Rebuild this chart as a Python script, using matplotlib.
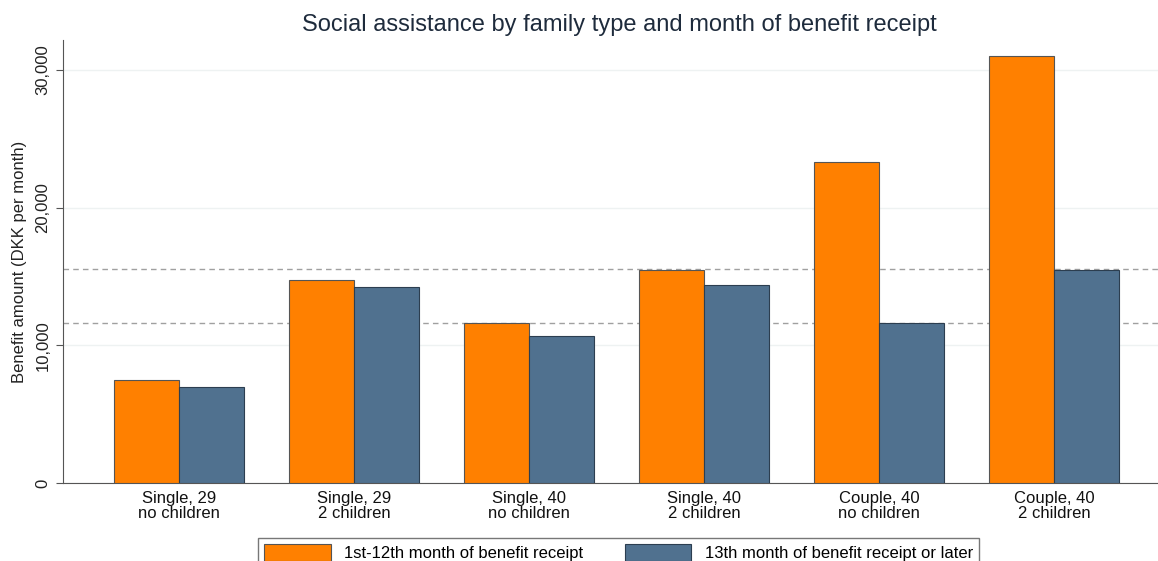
import numpy as np
from matplotlib import pyplot as plt

plt.rcParams['font.family'] = ['Liberation Sans', 'DejaVu Sans']

# Datos (DKK por mes)
familias = ['Single, 29\nno children', 'Single, 29\n2 children',
            'Single, 40\nno children', 'Single, 40\n2 children',
            'Couple, 40\nno children', 'Couple, 40\n2 children']
primer_anio = [7500, 14750, 11650, 15500, 23350, 31000]
despues = [7000, 14250, 10650, 14400, 11650, 15500]
referencias = [11650, 15550]  # lineas punteadas

etiquetas = ['1st-12th month of benefit receipt',
             '13th month of benefit receipt or later']

naranja = '#FF8000'
azul = '#50718F'

fig = plt.figure(figsize=(11.58, 5.61), dpi=100)
ax = fig.add_axes([0.0544, 0.139, 0.9456, 0.79])

x = np.arange(len(familias))
ancho = 0.371

ax.bar(x - ancho / 2, primer_anio, ancho, color=naranja,
       edgecolor='#555555', linewidth=0.8, label=etiquetas[0], zorder=3)
ax.bar(x + ancho / 2, despues, ancho, color=azul,
       edgecolor='#2c3e50', linewidth=0.8, label=etiquetas[1], zorder=3)

for r in referencias:
    ax.axhline(r, color='#a0a0a0', linestyle=(0, (4, 3)), linewidth=1, zorder=2)

ax.set_xlim(-0.663, 5.594)
ax.set_ylim(0, 32200)
ax.set_yticks([0, 10000, 20000, 30000])
ax.set_yticklabels(['0', '10,000', '20,000', '30,000'], rotation=90,
                   va='center', fontsize=12, color='#222222')
ax.grid(axis='y', color='#eef2f2', linewidth=1, zorder=0)
ax.set_xticks(x)
ax.set_xticklabels(familias, fontsize=12, color='#111111', linespacing=1.0)
ax.tick_params(axis='x', length=0, pad=6)
ax.tick_params(axis='y', length=5, color='#555555', pad=4)

for lado in ['top', 'right']:
    ax.spines[lado].set_visible(False)
ax.spines['left'].set_color('#555555')
ax.spines['bottom'].set_color('#555555')

ax.set_ylabel('Benefit amount (DKK per month)', fontsize=12, color='#222222', labelpad=6)
fig.text(0.535, 0.955, 'Social assistance by family type and month of benefit receipt',
         ha='center', va='center', fontsize=17, color='#1e2b3c')

fig.legend(loc='upper center', bbox_to_anchor=(0.534, 0.055), ncol=2,
           fontsize=12, frameon=True, fancybox=False, edgecolor='#555555',
           handlelength=4, handleheight=1.2, columnspacing=2.5,
           borderpad=0.35)

plt.savefig('out.png', dpi=100)
